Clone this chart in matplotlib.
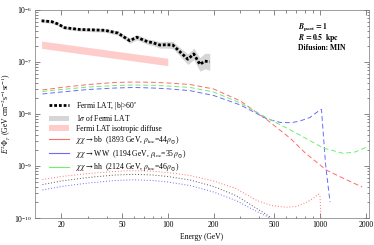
import numpy as np
import matplotlib
matplotlib.use('Agg')
import matplotlib.pyplot as plt
from matplotlib.patches import Patch
from matplotlib.lines import Line2D
from matplotlib.ticker import LogLocator, FixedLocator, FixedFormatter, NullFormatter

plt.rcParams['font.family'] = ['Liberation Serif', 'DejaVu Serif']
plt.rcParams['mathtext.fontset'] = 'stix'
plt.rcParams['font.size'] = 5.5

# ---------------- data ----------------
fermi_E = [14.8, 17.3, 18.9, 21.0, 26.4, 32.0, 38.5, 46.9, 56.2, 62.5, 73.8, 79.7,
           88.6, 98.0, 107.9, 119.9, 135.4, 148.2, 162.5, 175.1, 188.8]
fermi_F = [6.2e-7, 5.96e-7, 5.4e-7, 4.57e-7, 4.22e-7, 4.15e-7, 4.07e-7, 3.61e-7, 2.57e-7,
           2.99e-7, 2.45e-7, 2.35e-7, 2.12e-7, 2.15e-7, 2.12e-7, 1.58e-7, 1.13e-7, 1.43e-7,
           9.0e-8, 1.04e-7, 1.01e-7]
fermi_err_dex = [0.03, 0.03, 0.03, 0.03, 0.03, 0.035, 0.035, 0.04, 0.05, 0.05, 0.05, 0.055,
                 0.06, 0.065, 0.07, 0.08, 0.1, 0.11, 0.13, 0.15, 0.16]

iso_E = [14.8, 100.0]
iso_hi = [2.53e-7, 1.18e-7]
iso_lo = [1.83e-7, 8.5e-8]

bb_E = [15, 20, 30, 45, 60, 80, 100, 140, 200, 300, 450, 640, 800, 1100, 1400, 1893]
bb_F = [2.90e-8, 3.24e-8, 3.69e-8, 4.04e-8, 4.12e-8, 4.07e-8, 3.95e-8, 3.69e-8, 3.03e-8,
        1.78e-8, 7.67e-9, 3.38e-9, 1.78e-9, 8.37e-10, 5.95e-10, 3.94e-10]

ww_E = [15, 20, 30, 45, 60, 80, 100, 140, 200, 300, 450, 550, 650, 738, 860, 970, 1023,
        1090, 1164]
ww_F = [2.43e-8, 2.65e-8, 2.96e-8, 3.16e-8, 3.24e-8, 3.16e-8, 3.05e-8, 2.81e-8, 2.27e-8,
        1.49e-8, 8.01e-9, 6.87e-9, 6.81e-9, 7.33e-9, 8.57e-9, 1.12e-8, 1.23e-8, 1.04e-9,
        2.03e-10]

hh_E = [15, 20, 30, 45, 60, 80, 100, 140, 200, 300, 450, 640, 800, 1050, 1420, 1700, 2000]
hh_F = [2.71e-8, 2.96e-8, 3.30e-8, 3.53e-8, 3.61e-8, 3.56e-8, 3.45e-8, 3.24e-8, 2.65e-8,
        1.63e-8, 8.37e-9, 4.92e-9, 3.45e-9, 2.22e-9, 1.75e-9, 1.86e-9, 2.27e-9]

dot_red_E = [15, 20, 30, 45, 55, 75, 100, 140, 200, 280, 385, 480, 600, 700, 800, 900, 975,
             1000, 1025]
dot_red_F = [5.50e-10, 6.28e-10, 7.18e-10, 7.84e-10, 8.13e-10, 8.02e-10, 7.50e-10, 6.57e-10,
             5.15e-10, 3.69e-10, 2.17e-10, 1.74e-10, 1.61e-10, 1.66e-10, 1.94e-10, 2.37e-10,
             2.86e-10, 2.70e-10, 5.0e-11]

dot_blk_E = [15, 20, 30, 45, 60, 80, 100, 140, 200, 280, 385, 450, 520]
dot_blk_F = [4.40e-10, 5.15e-10, 6.02e-10, 6.71e-10, 6.92e-10, 6.71e-10, 6.28e-10, 5.38e-10,
             4.04e-10, 2.71e-10, 1.52e-10, 1.14e-10, 8.4e-11]

dot_blu_E = [15, 20, 30, 45, 60, 80, 100, 140, 200, 280, 385, 470, 520]
dot_blu_F = [3.45e-10, 4.04e-10, 4.71e-10, 5.26e-10, 5.43e-10, 5.26e-10, 4.92e-10, 4.21e-10,
             3.16e-10, 2.17e-10, 1.33e-10, 1.0e-10, 8.4e-11]

xticks = [20, 50, 100, 200, 500, 1000, 2000]
legend_labels = [
    r'Fermi LAT, |b|>60$^{\circ}$',
    r'1$\sigma$ of Fermi LAT',
    'Fermi LAT isotropic diffuse',
    r'$\chi\chi\,\rightarrow$bb  (1893 GeV, $\rho_{\rm loc}$=44$\,\rho_{\odot}$)',
    r'$\chi\chi\,\rightarrow$WW  (1194 GeV, $\rho_{\rm loc}$=35$\,\rho_{\odot}$)',
    r'$\chi\chi\,\rightarrow$hh  (2124 GeV, $\rho_{\rm loc}$=46$\,\rho_{\odot}$)',
]

# ---------------- plot ----------------
fig = plt.figure(figsize=(3.74, 2.45), dpi=100)
ax = fig.add_axes([35 / 374, 1 - 218 / 245, 334 / 374, 208 / 245])
ax.set_xscale('log')
ax.set_yscale('log')

fE = np.array(fermi_E)
fF = np.array(fermi_F)
fe = np.array(fermi_err_dex)
ax.fill_between(fE, fF * 10 ** (-fe), fF * 10 ** fe, color='#d6d6d6', lw=0, zorder=1)
ax.fill_between(iso_E, iso_lo, iso_hi, color='#ffcccc', lw=0, zorder=1)
ax.plot(fE, fF, color='black', lw=2.0, ls=(0, (1.0, 0.7)), zorder=5)

c_red, c_blue, c_green = '#ff6a6a', '#6a6aff', '#70ee70'
dash = (0, (5, 3))
ax.plot(bb_E, bb_F, color=c_red, lw=0.7, ls=dash, zorder=3)
ax.plot(ww_E, ww_F, color=c_blue, lw=0.7, ls=dash, zorder=3)
ax.plot(hh_E, hh_F, color=c_green, lw=0.7, ls=dash, zorder=3)

dot = (0, (1, 2))
ax.plot(dot_red_E, dot_red_F, color='#ff7070', lw=0.7, ls=dot, zorder=3)
ax.plot(dot_blk_E, dot_blk_F, color='#555555', lw=0.7, ls=dot, zorder=3)
ax.plot(dot_blu_E, dot_blu_F, color='#6a6aff', lw=0.7, ls=dot, zorder=3)

ax.set_xlim(13.4, 2100)
ax.set_ylim(1e-10, 1e-6)

ax.xaxis.set_major_locator(FixedLocator(xticks))
ax.xaxis.set_major_formatter(FixedFormatter([str(t) for t in xticks]))
ax.xaxis.set_minor_locator(LogLocator(base=10, subs=np.arange(2, 10), numticks=20))
ax.xaxis.set_minor_formatter(NullFormatter())
ax.yaxis.set_major_locator(LogLocator(base=10, numticks=10))
ax.yaxis.set_minor_locator(LogLocator(base=10, subs=np.arange(2, 10), numticks=20))
ax.yaxis.set_minor_formatter(NullFormatter())
ax.tick_params(which='both', direction='in', top=True, right=True, width=0.5,
               labelsize=5.5, color='#555555', pad=2)
ax.tick_params(which='major', length=3.5)
ax.tick_params(which='minor', length=1.8)
for s in ax.spines.values():
    s.set_linewidth(0.5)
    s.set_color('#777777')

ax.set_xlabel('Energy (GeV)', fontsize=5.5, labelpad=3)
ax.set_ylabel(r'$E^{2}\Phi_{\gamma}$ (GeV cm$^{-2}$s$^{-1}$sr$^{-1}$)', fontsize=5.5)
ax.yaxis.set_label_coords(-0.066, 0.5)

ax.text(0.787, 0.92, r'$\mathbfit{B}_{\mathbf{part}}\,\mathbf{=1}$', transform=ax.transAxes,
        fontsize=5.5, va='center', ha='left')
ax.text(0.787, 0.864, r'$\mathbfit{R}\,\mathbf{=0.5\ \ kpc}$', transform=ax.transAxes,
        fontsize=5.5, va='center', ha='left')
ax.text(0.787, 0.819, 'Difusion: MIN', transform=ax.transAxes, fontweight='bold',
        fontsize=5.5, va='center', ha='left')

handles = [
    Line2D([], [], color='black', lw=2.0, ls=(0, (1.0, 0.7))),
    Patch(facecolor='#d6d6d6', edgecolor='none'),
    Patch(facecolor='#ffcccc', edgecolor='none'),
    Line2D([], [], color=c_red, lw=0.8),
    Line2D([], [], color=c_blue, lw=0.8),
    Line2D([], [], color=c_green, lw=0.8),
]
ax.legend(handles, legend_labels, loc='upper left', bbox_to_anchor=(0.036, 0.58),
          frameon=False, fontsize=5.5, handlelength=2.6, handleheight=0.8,
          labelspacing=0.2, handletextpad=0.9, borderaxespad=0, borderpad=0.3)

fig.savefig('out.png', dpi=100)
